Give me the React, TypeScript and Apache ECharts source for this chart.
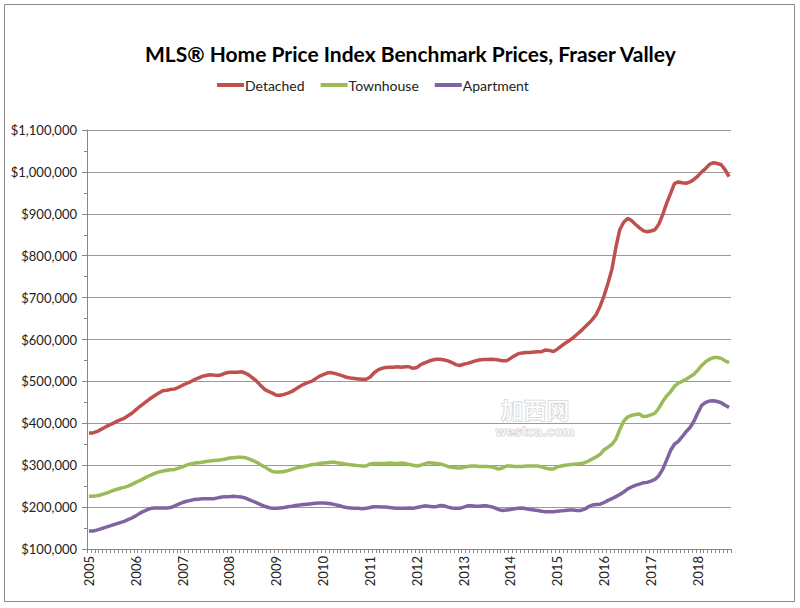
import * as echarts from 'echarts'
import { useEffect, useRef } from 'react'

// 2005-01 .. 2018-09, monthly
const years = [2005, 2006, 2007, 2008, 2009, 2010, 2011, 2012, 2013, 2014, 2015, 2016, 2017, 2018]
const lastMonth = 9

const months: string[] = []
years.forEach((y) => {
  const n = y === 2018 ? lastMonth : 12
  for (let m = 1; m <= n; m++) months.push(`${y}-${m < 10 ? '0' + m : m}`)
})

// values in $ thousands
const detached = [
  377, 377, 380, 385, 390, 395, 399, 404, 408, 412, 418, 424,
  432, 440, 447, 454, 461, 467, 473, 478, 479, 481, 482, 486,
  491, 495, 499, 504, 508, 512, 514, 516, 515, 514, 516, 520,
  522, 522, 522, 523, 520, 515, 508, 500, 490, 481, 476, 472,
  467, 467, 469, 472, 476, 482, 488, 493, 497, 500, 506, 512,
  516, 520, 521, 519, 516, 513, 510, 508, 507, 506, 505, 505,
  510, 520, 527, 531, 533, 534, 534, 535, 534, 535, 535, 531,
  533, 540, 544, 548, 551, 553, 553, 551, 549, 545, 540, 538,
  541, 543, 546, 549, 551, 552, 552, 553, 552, 551, 549, 549,
  555, 561, 566, 568, 569, 569, 570, 571, 571, 575, 574, 571,
  577, 584, 591, 597, 604, 612, 620, 629, 638, 648, 660, 680,
  705, 735, 768, 820, 862, 880, 889, 884, 875, 867, 860, 857,
  859, 862, 875, 898, 925, 948, 972, 976, 974, 973, 976, 982,
  990, 1000, 1008, 1018, 1022, 1020, 1017, 1005, 989
]

const townhouse = [
  226, 226, 227, 229, 232, 235, 239, 242, 245, 247, 250, 254,
  259, 263, 268, 273, 277, 281, 284, 286, 288, 289, 290, 293,
  296, 300, 303, 305, 306, 307, 309, 310, 311, 312, 313, 315,
  317, 318, 319, 319, 318, 315, 311, 307, 301, 296, 290, 285,
  284, 284, 285, 287, 290, 293, 295, 297, 299, 301, 302, 304,
  305, 306, 307, 307, 305, 304, 302, 301, 300, 299, 298, 298,
  303, 304, 304, 304, 304, 305, 304, 304, 305, 304, 302, 300,
  298, 300, 303, 306, 305, 304, 303, 300, 297, 295, 294, 293,
  295, 297, 298, 298, 297, 297, 297, 296, 294, 291, 294, 298,
  298, 297, 297, 297, 298, 298, 298, 298, 296, 293, 291, 291,
  296, 298, 300, 301, 302, 303, 304, 306, 310, 315, 320, 326,
  337, 343, 350, 362, 385, 405, 415, 419, 421, 422, 416, 417,
  420, 424, 436, 452, 465, 475, 488, 496, 500, 505, 511, 517,
  527, 538, 547, 553, 557, 557, 555, 549, 545
]

const apartment = [
  143, 143, 145, 148, 151, 154, 157, 160, 163, 166, 170, 174,
  179, 185, 190, 194, 197, 198, 198, 198, 198, 199, 203, 207,
  211, 214, 216, 218, 219, 220, 220, 220, 220, 222, 224, 225,
  225, 226, 225, 224, 222, 218, 214, 210, 206, 202, 199, 197,
  197, 198, 199, 201, 202, 204, 205, 206, 207, 208, 209, 210,
  210, 209, 208, 206, 204, 201, 199, 198, 197, 197, 196, 197,
  199, 201, 201, 200, 200, 199, 198, 197, 197, 197, 198, 197,
  199, 201, 203, 202, 201, 201, 204, 203, 200, 198, 197, 197,
  200, 203, 203, 202, 202, 203, 203, 201, 198, 194, 192, 193,
  194, 196, 197, 198, 196, 194, 193, 192, 190, 189, 189, 189,
  190, 191, 192, 193, 193, 192, 192, 195, 201, 205, 206, 207,
  211, 216, 220, 225, 230, 236, 243, 248, 252, 255, 258, 259,
  262, 266, 275, 290, 312, 335, 350, 357, 368, 380, 390, 405,
  425, 443, 450, 453, 454, 452, 449, 443, 438
]

const seriesNames = ['Detached', 'Townhouse', 'Apartment']
const seriesColors = ['#C0504D', '#9BBB59', '#8064A2']

const FONT = 'Lato, "Liberation Sans", sans-serif'

const money = (v: number) => '$' + Math.round(v).toLocaleString('en-US')

const App = () => {
  const containerRef = useRef<HTMLDivElement>(null)

  useEffect(() => {
    if (!containerRef.current) return
    const chart = echarts.init(containerRef.current, undefined, { renderer: 'svg' })

    const values = [detached, townhouse, apartment]

    const option: echarts.EChartsOption = {
      animation: false,
      backgroundColor: '#ffffff',
      textStyle: { fontFamily: FONT },
      title: {
        text: 'MLS® Home Price Index Benchmark Prices, Fraser Valley',
        left: 140,
        top: 38,
        textStyle: { fontFamily: FONT, fontSize: 21, fontWeight: 'bold', color: '#000' }
      },
      legend: {
        top: 73,
        left: 212,
        icon: 'rect',
        itemWidth: 27,
        itemHeight: 4,
        itemGap: 16,
        textStyle: { fontFamily: FONT, fontSize: 14, color: '#222', padding: [0, 0, 0, -4] },
        data: seriesNames
      },
      grid: { left: 87, right: 69, top: 130, bottom: 59 },
      xAxis: {
        type: 'category',
        data: months,
        boundaryGap: true,
        axisLine: { lineStyle: { color: '#868686' } },
        axisTick: { show: true, interval: 0, length: 4, lineStyle: { color: '#868686' } },
        axisLabel: {
          interval: 11,
          rotate: 90,
          margin: 7,
          fontFamily: FONT,
          fontSize: 13,
          color: '#222',
          formatter: (v: string) => v.slice(0, 4)
        },
        splitLine: { show: false }
      },
      yAxis: {
        type: 'value',
        min: 100000,
        max: 1100000,
        interval: 100000,
        axisLine: { show: true, lineStyle: { color: '#868686' } },
        axisTick: { show: true, length: 5, lineStyle: { color: '#868686' } },
        minorTick: { show: true, splitNumber: 2, length: 3, lineStyle: { color: '#868686' } },
        axisLabel: {
          margin: 10,
          fontFamily: FONT,
          fontSize: 13,
          color: '#222',
          formatter: (v: number) => money(v)
        },
        splitLine: { show: true, lineStyle: { color: '#9a9a9a', width: 1 } }
      },
      graphic: [
        {
          type: 'rect',
          shape: { x: 4.5, y: 4.5, width: 790, height: 597 },
          style: { fill: 'none', stroke: '#8a8a8a', lineWidth: 1 },
          silent: true
        },
        {
          type: 'text',
          x: 535,
          y: 409,
          style: {
            text: '加西网',
            font: 'bold 23px "Noto Sans CJK SC"',
            fill: 'rgba(255,255,255,0.6)',
            stroke: 'rgba(160,160,160,0.55)',
            lineWidth: 1,
            align: 'center',
            verticalAlign: 'middle',
            letterSpacing: 12
          },
          silent: true
        },
        {
          type: 'text',
          x: 535,
          y: 432,
          style: {
            text: 'westca.com',
            font: 'bold 12px "DejaVu Sans"',
            fill: 'rgba(255,255,255,0.6)',
            stroke: 'rgba(160,160,160,0.55)',
            lineWidth: 1,
            align: 'center',
            verticalAlign: 'middle',
            letterSpacing: 1.5
          },
          silent: true
        }
      ],
      series: seriesNames.map((name, i) => ({
        name,
        type: 'line',
        data: values[i].map((v) => v * 1000),
        showSymbol: false,
        symbol: 'none',
        smooth: false,
        color: seriesColors[i],
        lineStyle: { width: 3.5, color: seriesColors[i] }
      }))
    }

    chart.setOption(option)
    return () => chart.dispose()
  }, [])

  return (
    <div
      ref={containerRef}
      style={{ position: 'fixed', left: 0, top: 0, width: 800, height: 608 }}
    />
  )
}

export default App
